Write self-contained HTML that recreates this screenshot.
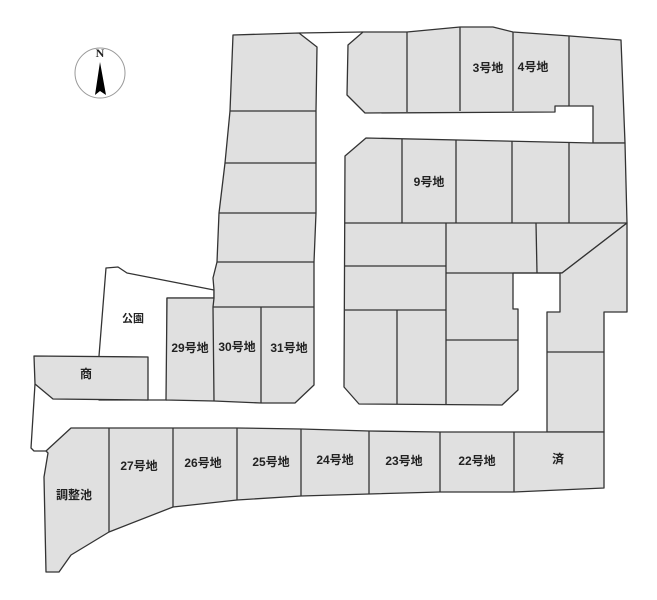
<!DOCTYPE html>
<html><head><meta charset="utf-8"><style>
html,body{margin:0;padding:0;background:#fff}
svg{display:block}
text{font-family:"Liberation Sans","Noto Sans CJK JP",sans-serif;font-weight:bold;font-size:12px;fill:#222;text-anchor:middle;dominant-baseline:middle}
</style></head><body>
<svg width="657" height="600" viewBox="0 0 657 600" xmlns="http://www.w3.org/2000/svg">
<g stroke="#333" stroke-width="1.3" fill="#e0e0e0" stroke-linejoin="round">
<!-- road top closing line -->
<line x1="299" y1="33" x2="363" y2="32" fill="none"/>
<!-- park -->
<polygon points="106,268 118,267 127,273 214,290 214,298 167,298 167,400 99,400 99,356" fill="#fff"/>
<!-- west block -->
<polygon points="233,35 299,33 317,47 316,111 316,213 314,262 314,307 314,385 295,403 261,403 214,401 166,400 167,298 214,298 214,290 213,278 217,262 219,213 225,163 230,111"/>
<polyline fill="none" points="230,111 316,111"/>
<polyline fill="none" points="225,163 316,163"/>
<polyline fill="none" points="219,213 316,213"/>
<polyline fill="none" points="217,262 314,262"/>
<polyline fill="none" points="213,307 314,307"/>
<polyline fill="none" points="214,298 213,307 214,401"/>
<polyline fill="none" points="261,307 261,403"/>
<!-- shop -->
<polygon points="34,356 148,357 148,400 53,399 35,384"/>
<!-- road west edge -->
<polyline fill="none" points="35,384 31,448 34,451 46,451"/>
<!-- north block -->
<polygon points="363,32 407,32 460,27 493,27 513,32 570,36 621,40 625,143 593,143 593,106 555,106 555,112 365,113 347,95 348,45"/>
<polyline fill="none" points="407,32 407,112"/>
<polyline fill="none" points="460,27 460,111"/>
<polyline fill="none" points="513,32 513,111"/>
<polyline fill="none" points="569,36 569,106"/>
<!-- middle-east block -->
<polygon points="366,138 593,143 625,143 627,223 562,273 513,273 513,309 518,309 518,390 502,405 359,404 344,387 345,156"/>
<polyline fill="none" points="345,223 627,223"/>
<polyline fill="none" points="402,139 402,223"/>
<polyline fill="none" points="456,140 456,223"/>
<polyline fill="none" points="512,141 512,223"/>
<polyline fill="none" points="569,142 569,223"/>
<polyline fill="none" points="446,223 446,405"/>
<polyline fill="none" points="536,223 537,273"/>
<polyline fill="none" points="446,273 562,273"/>
<polyline fill="none" points="345,266 446,266"/>
<polyline fill="none" points="345,310 446,310"/>
<polyline fill="none" points="397,310 397,404"/>
<polyline fill="none" points="446,340 518,340"/>
<!-- east column -->
<polygon points="627,223 627,312 604,312 604,432 547,432 547,312 560,312 560,273 562,273"/>
<polyline fill="none" points="547,352 604,352"/>
<!-- south block -->
<polygon points="71,428 109,428 173,428 237,428 301,429 369,431 440,432 514,432 604,432 604,488 514,492 440,492 369,494 301,496 237,500 173,507 109,532 71,555 59,572 46,572 44,477 48,453 46,451"/>
<polyline fill="none" points="109,428 109,532"/>
<polyline fill="none" points="173,428 173,507"/>
<polyline fill="none" points="237,428 237,500"/>
<polyline fill="none" points="301,429 301,496"/>
<polyline fill="none" points="369,431 369,494"/>
<polyline fill="none" points="440,432 440,492"/>
<polyline fill="none" points="514,432 514,492"/>
</g>
<!-- compass -->
<circle cx="100" cy="73" r="25" fill="none" stroke="#999" stroke-width="1"/>
<text x="100" y="54" style="font-family:'Liberation Serif',serif;font-size:12px">N</text>
<polygon points="100,62 95,95 100,91 106,95" fill="#000"/>
<text x="488" y="69">3号地</text>
<text x="533" y="68">4号地</text>
<text x="429" y="183">9号地</text>
<text x="133" y="319" style="font-size:11px">公園</text>
<text x="190" y="349">29号地</text>
<text x="237" y="348">30号地</text>
<text x="289" y="349">31号地</text>
<text x="86" y="375">商</text>
<text x="139" y="467">27号地</text>
<text x="203" y="464">26号地</text>
<text x="271" y="463">25号地</text>
<text x="335" y="461">24号地</text>
<text x="404" y="462">23号地</text>
<text x="477" y="462">22号地</text>
<text x="558" y="460">済</text>
<text x="74" y="496">調整池</text>
</svg>
</body></html>
